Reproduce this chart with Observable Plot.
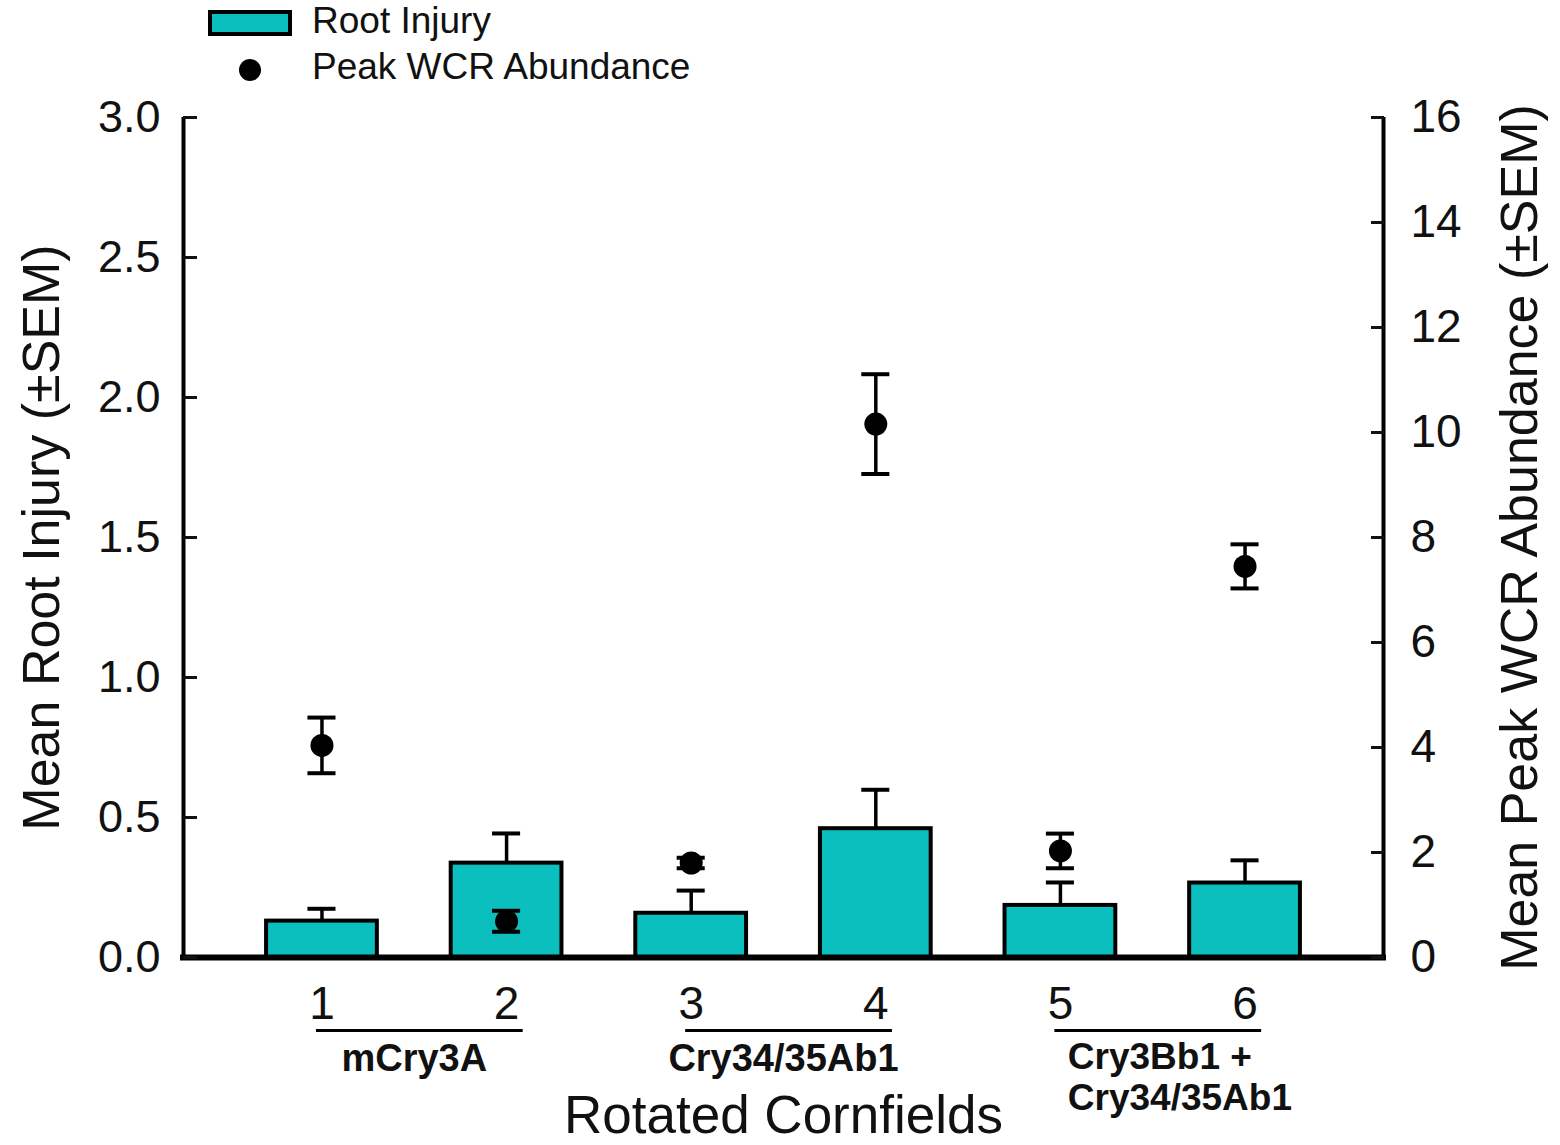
<!DOCTYPE html>
<html>
<head>
<meta charset="utf-8">
<script src="https://cdn.jsdelivr.net/npm/d3@7"></script>
<script src="https://cdn.jsdelivr.net/npm/@observablehq/plot@0.6"></script>
<style>
  body { margin: 0; background: #fff; font-family: "Liberation Sans", Arial, sans-serif; }
  #legend svg, #chart svg { display: block; }
</style>
</head>
<body>
<div id="legend"></div>
<div id="chart"></div>
<script>
// Rotated cornfields (x positions 1–6)
const fields = [1, 2, 3, 4, 5, 6];

// Mean root injury (left axis, node-injury scale) and its SEM
const rootInjury    = [0.130, 0.337, 0.158, 0.460, 0.186, 0.266];
const rootInjurySem = [0.044, 0.106, 0.081, 0.139, 0.082, 0.081];

// Mean peak western corn rootworm abundance (right axis) and its SEM
const wcrAbundance = [4.04, 0.69, 1.80, 10.16, 2.03, 7.45];
const wcrSem       = [0.53, 0.20, 0.10, 0.95, 0.33, 0.42];

// Bt trait groups under the field numbers
const groupLabels  = ["mCry3A", "Cry34/35Ab1", "Cry3Bb1 +\nCry34/35Ab1"];
const groupMembers = [[1, 2], [3, 4], [5, 6]];

// Axis ticks
const leftTicks  = [0, 0.5, 1.0, 1.5, 2.0, 2.5, 3.0];
const rightTicks = [0, 2, 4, 6, 8, 10, 12, 14, 16];

// Legend entries
const legendLabels = ["Root Injury", "Peak WCR Abundance"];

const teal = "#0bbfbf";
const leftMax = 3, rightMax = 16;
const k = leftMax / rightMax;          // right-axis units -> left-axis units
const xDomain = [0.25, 6.75];
const barHalf = 0.3, capHalf = 0.076;
const font = "'Liberation Sans', Arial, sans-serif";

const rows = fields.map((f, i) => ({
  field: f,
  injury: rootInjury[i],
  injuryTop: rootInjury[i] + rootInjurySem[i],
  wcr: wcrAbundance[i] * k,
  wcrLo: (wcrAbundance[i] - wcrSem[i]) * k,
  wcrHi: (wcrAbundance[i] + wcrSem[i]) * k
}));

const groups = groupLabels.map((label, i) => ({
  label,
  first: groupMembers[i][0],
  last: groupMembers[i][groupMembers[i].length - 1],
  multi: label.includes("\n")
}));

// Legend above the plot
const leg = d3.select("#legend").append("svg")
  .attr("width", 1560).attr("height", 95)
  .style("font-family", font);
leg.append("rect").attr("x", 210).attr("y", 12).attr("width", 80).attr("height", 22)
  .attr("fill", teal).attr("stroke", "black").attr("stroke-width", 4);
leg.append("circle").attr("cx", 250).attr("cy", 70).attr("r", 11).attr("fill", "black");
leg.selectAll("text").data(legendLabels).join("text")
  .attr("x", 312).attr("y", (d, i) => i === 0 ? 23 : 69)
  .attr("dominant-baseline", "middle")
  .attr("font-size", 37).attr("fill", "#111")
  .text(d => d);

const chart = Plot.plot({
  width: 1560,
  height: 1050,
  marginTop: 22,
  marginBottom: 188,
  marginLeft: 183,
  marginRight: 177,
  style: { fontFamily: font, background: "white", overflow: "visible", color: "#111" },
  x: { domain: xDomain },
  y: { domain: [0, leftMax] },
  marks: [
    // bars: root injury
    Plot.rect(rows, {
      x1: d => d.field - barHalf, x2: d => d.field + barHalf,
      y1: 0, y2: "injury",
      fill: teal, stroke: "black", strokeWidth: 4
    }),
    // upper SEM on bars
    Plot.ruleX(rows, { x: "field", y1: "injury", y2: "injuryTop", stroke: "black", strokeWidth: 3.5 }),
    Plot.ruleY(rows, { y: "injuryTop", x1: d => d.field - capHalf, x2: d => d.field + capHalf, stroke: "black", strokeWidth: 4 }),

    // points: peak WCR abundance with ±SEM
    Plot.ruleX(rows, { x: "field", y1: "wcrLo", y2: "wcrHi", stroke: "black", strokeWidth: 3.5 }),
    Plot.ruleY(rows, { y: "wcrHi", x1: d => d.field - capHalf, x2: d => d.field + capHalf, stroke: "black", strokeWidth: 4 }),
    Plot.ruleY(rows, { y: "wcrLo", x1: d => d.field - capHalf, x2: d => d.field + capHalf, stroke: "black", strokeWidth: 4 }),
    Plot.dot(rows, { x: "field", y: "wcr", r: 11.5, fill: "black" }),

    // axis lines
    Plot.ruleX(xDomain, { stroke: "black", strokeWidth: 4 }),
    Plot.ruleY([0], { stroke: "black", strokeWidth: 6, strokeLinecap: "square" }),

    // left axis
    Plot.axisY({
      anchor: "left", ticks: leftTicks, tickFormat: d3.format(".1f"),
      tickSize: -14, tickPadding: 37, strokeWidth: 3, fontSize: 45, label: null
    }),
    // right axis
    Plot.axisY({
      anchor: "right", ticks: rightTicks.map(v => v * k), tickFormat: d => Math.round(d / k),
      tickSize: -13, tickPadding: 40, strokeWidth: 3, fontSize: 46, label: null
    }),
    // field numbers
    Plot.axisX({
      ticks: fields, tickFormat: d => String(d),
      tickSize: 0, tickPadding: 29, fontSize: 46, label: null
    }),

    // group brackets and trait names
    Plot.ruleY(groups, {
      y: () => 0, x1: d => d.first - 0.03, x2: d => d.last + 0.09,
      dy: 73, stroke: "black", strokeWidth: 3
    }),
    Plot.text(groups.filter(d => !d.multi), {
      x: d => (d.first + d.last) / 2, y: () => 0, text: "label",
      dy: 101, lineAnchor: "middle", fontSize: 38, fontWeight: "bold", fill: "#111"
    }),
    Plot.text(groups.filter(d => d.multi), {
      x: d => d.first + 0.04, y: () => 0, text: "label",
      dy: 119, lineAnchor: "middle", textAnchor: "start", lineHeight: 1.12,
      fontSize: 37, fontWeight: "bold", fill: "#111"
    }),

    // axis titles
    Plot.text(["Rotated Cornfields"], {
      text: d => d, frameAnchor: "bottom", dy: 159, lineAnchor: "middle", textAnchor: "middle",
      fontSize: 53, fill: "#111"
    }),
    Plot.text(["Mean Root Injury (±SEM)"], {
      text: d => d, frameAnchor: "left", dx: -141, rotate: -90, textAnchor: "middle",
      lineAnchor: "middle", fontSize: 52, fill: "#111"
    }),
    Plot.text(["Mean Peak WCR Abundance (±SEM)"], {
      text: d => d, frameAnchor: "right", dx: 137, rotate: -90, textAnchor: "middle",
      lineAnchor: "middle", fontSize: 52, fill: "#111"
    })
  ]
});

document.getElementById("chart").appendChild(chart);
</script>
</body>
</html>
